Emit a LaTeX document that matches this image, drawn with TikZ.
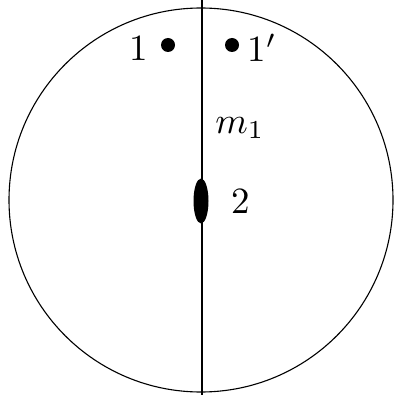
\documentclass[tikz,border=0pt]{standalone}
\usetikzlibrary{shapes.geometric}
\begin{document}
\begin{tikzpicture}[x=1pt,y=-1pt,
  lbl/.style={inner sep=0pt,font=\fontsize{10}{12}\selectfont,scale=3.7},
  dot/.style={circle,fill=black,inner sep=0pt,minimum size=14pt},
  blob/.style={ellipse,fill=black,inner sep=0pt,minimum width=15pt,minimum height=45pt},
  edge/.style={line width=1.1pt}]
\useasboundingbox (0,0) rectangle (393,395);
\node[circle,draw,line width=1.1pt,minimum size=384pt,inner sep=0pt] (c) at (201,200) {};
\coordinate (top) at (202,0);
\coordinate (bot) at (202,395);
\draw[edge] (top) -- (bot);
\node[dot] (d1) at (168,45) {};
\node[dot] (d1p) at (232,45) {};
\node[blob] (b2) at (201,201) {};
\node[lbl] (l1) at (139,48) {1};
\node[lbl] (l1p) at (262,48) {1$'$};
\node[lbl] (lm) at (240,128) {$m_1$};
\node[lbl] (l2) at (241,201) {2};
\end{tikzpicture}
\end{document}
